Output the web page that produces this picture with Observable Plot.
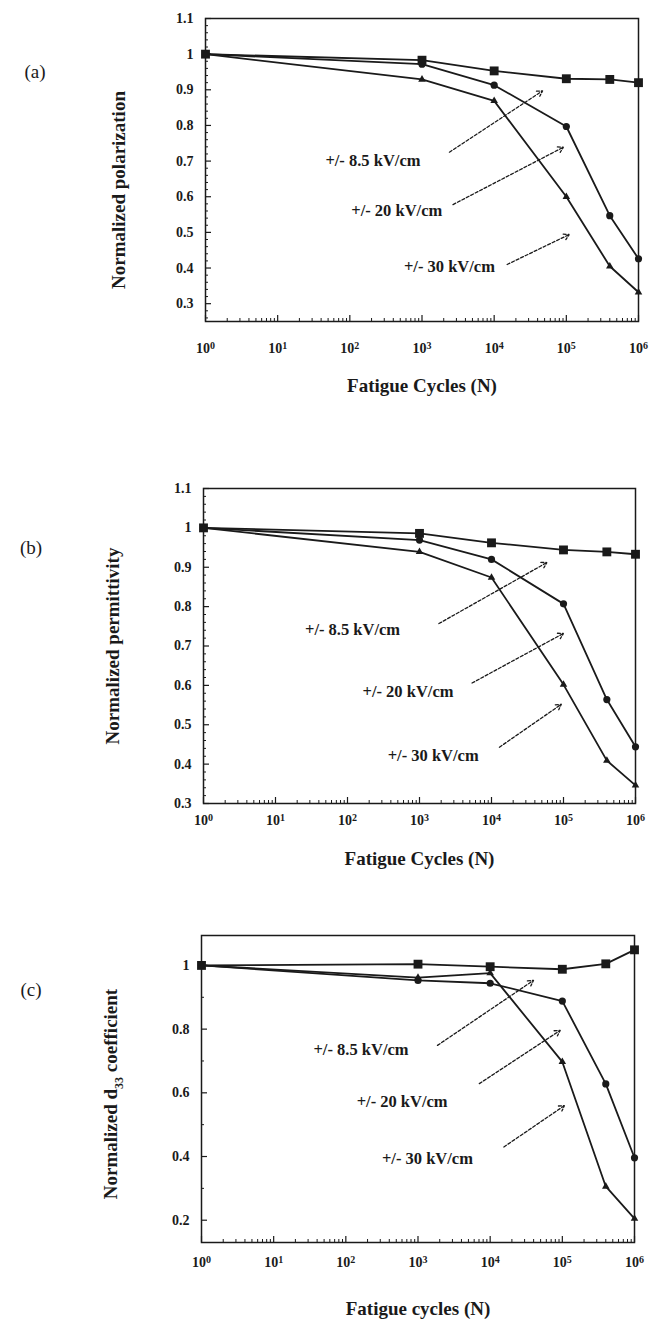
<!DOCTYPE html>
<html><head><meta charset="utf-8">
<script src="https://cdn.jsdelivr.net/npm/d3@7"></script>
<script src="https://cdn.jsdelivr.net/npm/@observablehq/plot@0.6"></script>
<style>
body{margin:0;background:#fff;}
#root{position:relative;width:649px;height:1327px;overflow:hidden;font-family:"Liberation Serif","DejaVu Serif",serif;color:#1a1a1a;}
#root svg, #root svg text{font-family:"Liberation Serif","DejaVu Serif",serif !important;}
.panel{position:absolute;left:0;}
.plab{position:absolute;font-size:19px;transform:translate(-50%,-50%);}
</style></head><body><div id="root"></div>
<script>
// ---- data ----
const cycles = [1, 1e3, 1e4, 1e5, 4e5, 1e6];
const fields = ["+/- 8.5 kV/cm", "+/- 20 kV/cm", "+/- 30 kV/cm"];
// (a) normalized polarization
const polarization85 = [1.0, 0.983, 0.953, 0.931, 0.929, 0.920];
const polarization20 = [1.0, 0.972, 0.913, 0.797, 0.547, 0.426];
const polarization30 = [1.0, 0.929, 0.869, 0.600, 0.405, 0.332];
// (b) normalized permittivity
const permittivity85 = [1.0, 0.986, 0.962, 0.944, 0.939, 0.933];
const permittivity20 = [1.0, 0.969, 0.920, 0.807, 0.564, 0.444];
const permittivity30 = [1.0, 0.939, 0.874, 0.602, 0.409, 0.346];
// (c) normalized d33 coefficient
const d33_85 = [1.0, 1.004, 0.996, 0.988, 1.005, 1.049];
const d33_20 = [1.0, 0.953, 0.944, 0.888, 0.628, 0.396];
const d33_30 = [1.0, 0.962, 0.976, 0.697, 0.306, 0.205];
// tick labels
const decades = [1, 10, 100, 1e3, 1e4, 1e5, 1e6];
const ticksAB = [0.3, 0.4, 0.5, 0.6, 0.7, 0.8, 0.9, 1.0, 1.1];
const ticksC = [0.2, 0.4, 0.6, 0.8, 1.0];
// annotation anchors (log10 of cycles, value)
const notesA = [[2.32, 0.700, 3.38, 0.725, 4.67, 0.897], [2.65, 0.562, 3.43, 0.578, 4.96, 0.739], [3.38, 0.405, 4.18, 0.410, 5.04, 0.494]];
const notesB = [[2.07, 0.742, 3.27, 0.757, 4.77, 0.912], [2.84, 0.585, 3.73, 0.606, 5.00, 0.732], [3.19, 0.422, 4.11, 0.443, 4.97, 0.552]];
const notesC = [[2.21, 0.735, 3.27, 0.749, 4.60, 0.953], [2.78, 0.571, 3.85, 0.629, 4.97, 0.796], [3.13, 0.393, 4.19, 0.430, 5.03, 0.560]];

const ink = "#1a1a1a";
const root = document.getElementById("root");
const W = 649;

function rowsOf(arrs) {
  const out = [];
  arrs.forEach((vals, si) => vals.forEach((v, i) => out.push({n: cycles[i], v, s: fields[si]})));
  return out;
}
function notesOf(arr) {
  return arr.map((d, i) => ({label: fields[i], tx: 10 ** d[0], ty: d[1], x1: 10 ** d[2], y1: d[3], x2: 10 ** d[4], y2: d[5]}));
}

function panel(o) {
  const rows = rowsOf(o.series);
  const notes = notesOf(o.notes);
  const plotW = W - o.mL - o.mR;
  const plotH = o.height - o.mT - o.mB;
  const minorX = [];
  for (let e = 0; e < 6; e++) for (let k = 2; k <= 9; k++) minorX.push(k * 10 ** e);
  const fmtY = d => Math.abs(d - 1) < 1e-9 ? "1" : d.toFixed(1);
  const chart = Plot.plot({
    width: W, height: o.height,
    marginLeft: o.mL, marginRight: o.mR, marginTop: o.mT, marginBottom: o.mB,
    style: {fontFamily: '"Liberation Serif","DejaVu Serif",serif', fontSize: "14px", fontWeight: "bold", color: ink, background: "transparent"},
    x: {type: "log", domain: [1, 1e6]},
    y: {domain: o.yDomain},
    marks: [
      Plot.tickY(o.minorY, {y: d => d, stroke: ink, strokeWidth: 1, insetRight: plotW - 3}),
      Plot.tickY(o.yTicks, {y: d => d, stroke: ink, strokeWidth: 1.2, insetRight: plotW - 6}),
      Plot.tickX(minorX, {x: d => d, stroke: ink, strokeWidth: 1, insetTop: plotH - 3}),
      Plot.tickX(decades, {x: d => d, stroke: ink, strokeWidth: 1.2, insetTop: plotH - 6}),
      Plot.frame({stroke: ink, strokeWidth: 1.5}),
      Plot.line(rows, {x: "n", y: "v", z: "s", stroke: ink, strokeWidth: 1.8}),
      Plot.dot(rows.filter(d => d.s === fields[0]), {x: "n", y: "v", symbol: "square", r: 5, fill: ink}),
      Plot.dot(rows.filter(d => d.s === fields[1]), {x: "n", y: "v", symbol: "circle", r: 3.6, fill: ink}),
      Plot.dot(rows.filter(d => d.s === fields[2]), {x: "n", y: "v", symbol: "triangle", r: 2.8, fill: ink}),
      Plot.arrow(notes, {x1: "x1", y1: "y1", x2: "x2", y2: "y2", stroke: ink, strokeWidth: 1.3, strokeDasharray: "3,2", headLength: 7}),
      Plot.text(notes, {x: "tx", y: "ty", text: "label", fill: ink, fontSize: 16.5, fontWeight: "bold"}),
      Plot.axisY({ticks: o.yTicks, tickSize: 0, tickPadding: 12, tickFormat: fmtY, label: null}),
      Plot.axisX({ticks: decades, tickSize: 0, tickPadding: o.xPad, tickFormat: d => "10^" + Math.round(Math.log10(d)), label: null}),
      Plot.text([o.xTitle], {frameAnchor: "bottom", dy: o.xTitleDy, textAnchor: "middle", lineAnchor: "middle", text: d => d, fontSize: 19, fontWeight: "bold", fill: ink}),
      Plot.text([o.yTitle], {frameAnchor: "left", dx: o.yTitleDx, dy: o.yTitleDy, textAnchor: "middle", lineAnchor: "middle", rotate: -90, text: d => d, fontSize: 19, fontWeight: "bold", fill: ink})
    ]
  });
  // superscript exponents on x tick labels
  d3.select(chart).selectAll('g[aria-label="x-axis tick label"] text').each(function() {
    const t = d3.select(this).text();
    if (t.includes("^")) {
      const [b, e] = t.split("^");
      const el = d3.select(this);
      el.text(b);
      el.append("tspan").attr("dy", "-0.45em").attr("font-size", "10px").text(e);
    }
  });
  // subscript in y title
  d3.select(chart).selectAll("text").each(function() {
    const t = d3.select(this).text();
    const m = t.match(/^(Normalized d)(33)( coefficient)$/);
    if (m) {
      const el = d3.select(this);
      el.text(m[1]);
      el.append("tspan").attr("dy", "6").attr("font-size", "12px").text(m[2]);
      el.append("tspan").attr("dy", "-6").text(m[3]);
    }
  });
  const div = document.createElement("div");
  div.className = "panel";
  div.style.top = o.top + "px";
  div.appendChild(chart);
  root.appendChild(div);
  const lab = document.createElement("div");
  lab.className = "plab";
  lab.textContent = o.tag;
  lab.style.left = o.tagX + "px";
  lab.style.top = o.tagY + "px";
  root.appendChild(lab);
}

const fineTicks = d3.range(0.26, 1.1, 0.02).filter(v => Math.abs(v * 10 - Math.round(v * 10)) > 1e-6);

panel({top: 0, height: 400, mT: 18, mB: 79, mL: 205, mR: 11, yDomain: [0.25, 1.1],
  series: [polarization85, polarization20, polarization30], notes: notesA,
  yTicks: ticksAB, minorY: fineTicks, xPad: 22, xTitle: "Fatigue Cycles (N)", xTitleDy: 64,
  yTitle: "Normalized polarization", yTitleDx: -87, yTitleDy: 20, tag: "(a)", tagX: 35, tagY: 72});

panel({top: 440, height: 440, mT: 48, mB: 77, mL: 203, mR: 14, yDomain: [0.3, 1.1],
  series: [permittivity85, permittivity20, permittivity30], notes: notesB,
  yTicks: ticksAB, minorY: fineTicks.filter(v => v > 0.3), xPad: 12, xTitle: "Fatigue Cycles (N)", xTitleDy: 55,
  yTitle: "Normalized permittivity", yTitleDx: -91, yTitleDy: 0, tag: "(b)", tagX: 31, tagY: 548});

panel({top: 880, height: 447, mT: 55, mB: 85, mL: 201, mR: 15, yDomain: [0.13, 1.094],
  series: [d33_85, d33_20, d33_30], notes: notesC,
  yTicks: ticksC, minorY: [0.3, 0.5, 0.7, 0.9], xPad: 15, xTitle: "Fatigue cycles (N)", xTitleDy: 66,
  yTitle: "Normalized d33 coefficient", yTitleDx: -91, yTitleDy: 5, tag: "(c)", tagX: 31, tagY: 990});
</script></body></html>
